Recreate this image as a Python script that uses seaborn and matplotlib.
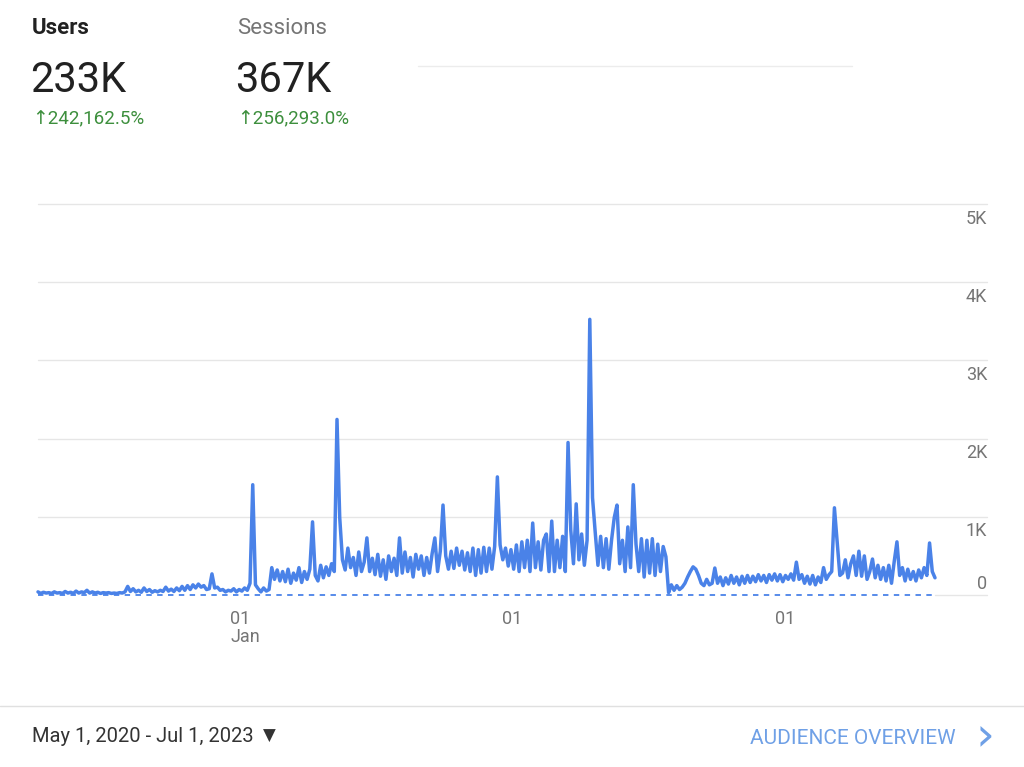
import matplotlib
matplotlib.use('Agg')
import matplotlib.pyplot as plt
import matplotlib.transforms as mtransforms
import pandas as pd
import seaborn as sns

# Daily users (one reading every 3.5 days)
users = [
    40, 20, 35, 25, 30, 20, 40, 25, 30, 20,
    45, 25, 35, 20, 50, 25, 40, 30, 60, 25,
    40, 25, 35, 20, 30, 25, 30, 20, 25, 20,
    30, 25, 40, 110, 45, 80, 40, 60, 35, 90,
    45, 70, 35, 55, 40, 60, 45, 100, 50, 75,
    45, 90, 55, 110, 60, 120, 70, 130, 90, 140,
    100, 120, 70, 80, 270, 90, 100, 60, 70, 40,
    60, 50, 80, 40, 70, 50, 90, 60, 150, 1410,
    130, 80, 40, 90, 50, 70, 350, 200, 320, 180,
    300, 170, 330, 150, 280, 190, 350, 160, 300, 200,
    330, 935, 250, 180, 380, 220, 360, 250, 400, 300,
    2245, 990, 450, 320, 600, 350, 480, 250, 550, 300,
    420, 730, 300, 470, 260, 520, 240, 450, 200, 500,
    300, 470, 250, 730, 280, 550, 300, 480, 230, 520,
    330, 500, 250, 480, 280, 530, 730, 300, 560, 1150,
    500, 330, 560, 340, 600, 380, 560, 320, 540, 300,
    600, 250, 580, 280, 610, 300, 600, 330, 620, 1510,
    640, 450, 600, 370, 580, 330, 640, 300, 680, 350,
    700, 300, 920, 350, 680, 320, 700, 780, 300, 945,
    300, 700, 350, 750, 300, 1950, 830, 400, 1165, 450,
    780, 380, 700, 3525, 1245, 800, 380, 750, 350, 720,
    330, 700, 990, 1150, 400, 700, 300, 870, 350, 1410,
    650, 300, 720, 230, 700, 280, 720, 250, 650, 300,
    620, 490, 30, 130, 60, 120, 70, 100, 150, 230,
    300, 360, 330, 250, 150, 120, 200, 130, 150, 345,
    150, 230, 120, 220, 140, 250, 150, 230, 130, 240,
    150, 250, 160, 240, 170, 260, 180, 250, 160, 260,
    190, 270, 180, 260, 170, 250, 200, 270, 190, 420,
    200, 260, 150, 240, 140, 250, 130, 230, 160, 350,
    200, 260, 300, 1115, 680, 250, 280, 450, 220, 400,
    500, 250, 560, 240, 500, 200, 300, 460, 220, 380,
    200, 350, 180, 380, 150, 430, 680, 250, 350, 180,
    330, 200, 300, 180, 320, 220, 350, 250, 665, 300, 220,
]
dates = pd.date_range('2020-05-01', periods=len(users), freq='84h')

# previous period (comparison, dashed)
prev_dates = pd.to_datetime(['2020-05-01', '2023-06-27', '2023-06-30'])
prev_users = [0, 0, 40]

y_ticks = [0, 1000, 2000, 3000, 4000, 5000]
y_labels = ['0', '1K', '2K', '3K', '4K', '5K']
x_ticks = pd.to_datetime(['2021-01-01', '2022-01-01', '2023-01-01'])
x_labels = ['01\nJan', '01', '01']
x_label_ha = ['left', 'center', 'center']
x_label_shift = [2, 0, -10]  # px, GA does not centre labels exactly on ticks

BLUE = '#4a82e8'

sns.set_style('white')
plt.rcParams['font.family'] = ['Roboto', 'DejaVu Sans']

fig = plt.figure(figsize=(10.24, 7.67), dpi=100)


def fx(x):
    return x / 1024


def fy(y):
    return 1 - y / 767


ax = fig.add_axes([fx(38), fy(595), fx(935 - 38), (595 - 204) / 767])
ax.patch.set_alpha(0)

df = pd.DataFrame({'date': dates, 'users': users})
prev = pd.DataFrame({'date': prev_dates, 'users': prev_users})

# grid lines (extend under the right-hand labels)
for v in y_ticks[1:]:
    ax.axhline(v, xmin=0, xmax=1.058, color='#e6e6e6', lw=1, clip_on=False, zorder=0)
ax.axhline(0, xmin=1.0, xmax=1.058, color='#e6e6e6', lw=1, clip_on=False, zorder=0)

sns.lineplot(data=prev, x='date', y='users', ax=ax, color=BLUE, lw=1.3,
             linestyle=(0, (3, 3)), clip_on=False, zorder=2)
sns.lineplot(data=df, x='date', y='users', ax=ax, color=BLUE, lw=2.5,
             clip_on=False, zorder=3)

ax.set_xlim(dates[0], dates[-1])
ax.set_ylim(0, 5000)
sns.despine(ax=ax, left=True, bottom=True)
ax.set_xlabel('')
ax.set_ylabel('')
ax.set_yticks([])

ax.set_xticks(x_ticks)
ax.set_xticklabels(x_labels, fontsize=13, color='#757575')
ax.tick_params(axis='x', length=7, width=1, color='#e0e0e0', pad=4)
for lbl, ha, dx in zip(ax.get_xticklabels(), x_label_ha, x_label_shift):
    lbl.set_horizontalalignment(ha)
    lbl.set_multialignment('left')
    lbl.set_linespacing(1.0)
    lbl.set_transform(lbl.get_transform() + mtransforms.ScaledTranslation(dx / 100, 0, fig.dpi_scale_trans))

# y labels on the right, below each grid line
trans = mtransforms.blended_transform_factory(ax.transAxes, ax.transData)
for v, lab in zip(y_ticks, y_labels):
    if v == 0:
        ax.annotate(lab, xy=(1.058, v), xycoords=trans, xytext=(0, 1.5),
                    textcoords='offset points', ha='right', va='bottom',
                    fontsize=13, color='#757575')
    else:
        ax.annotate(lab, xy=(1.058, v), xycoords=trans, xytext=(0, -4),
                    textcoords='offset points', ha='right', va='top',
                    fontsize=13, color='#757575')

# header metrics
fig.text(fx(32), fy(28), 'Users', fontsize=16, fontweight='semibold', color='#212121', va='center')
fig.text(fx(237), fy(28), 'Sessions', fontsize=16, color='#757575', va='center')
fig.text(fx(30), fy(80), '233K', fontsize=30, color='#212121', va='center')
fig.text(fx(235), fy(80), '367K', fontsize=30, color='#212121', va='center')
fig.text(fx(32), fy(119), '↑242,162.5%', fontsize=13.5, color='#3d8f3d', va='center')
fig.text(fx(237), fy(119), '↑256,293.0%', fontsize=13.5, color='#3d8f3d', va='center')
fig.add_artist(plt.Line2D([fx(418), fx(852)], [fy(66), fy(66)], color='#ececec', lw=1))

# footer
fig.add_artist(plt.Line2D([0, 1], [fy(706), fy(706)], color='#e0e0e0', lw=1))
fig.text(fx(32), fy(736), 'May 1, 2020 - Jul 1, 2023', fontsize=14.5, color='#333333', va='center')
fig.text(fx(263), fy(736), '▼', fontsize=12, color='#333333', va='center',
         family='DejaVu Sans')
fig.text(fx(750), fy(738), 'AUDIENCE OVERVIEW', fontsize=15, color='#6fa0e6', va='center')
fig.text(fx(976), fy(737), '›', fontsize=34, color='#6fa0e6', va='center',
         family='DejaVu Sans')

fig.savefig('out.png', dpi=100)
